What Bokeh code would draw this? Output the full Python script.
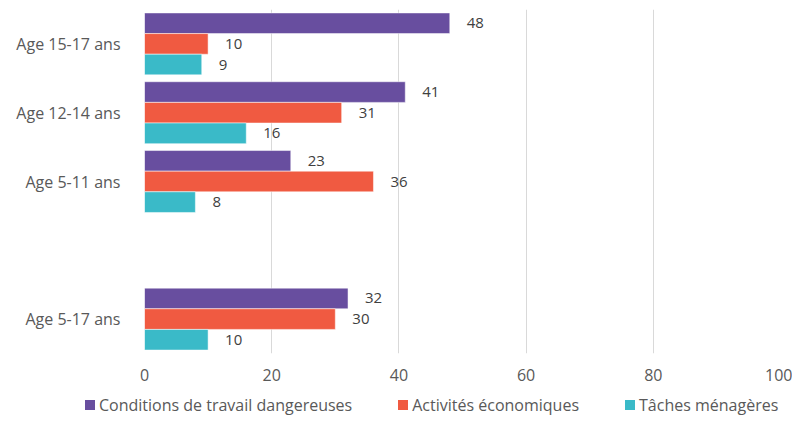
from bokeh.plotting import figure
from bokeh.layouts import column
from bokeh.models import ColumnDataSource, FixedTicker, Range1d, Div
from bokeh.core.properties import value
from bokeh.embed import file_html
from bokeh.resources import INLINE

categories = ["Age 15-17 ans", "Age 12-14 ans", "Age 5-11 ans", "", "Age 5-17 ans"]
series_names = ["Conditions de travail dangereuses", "Activités économiques", "Tâches ménagères"]
dangereuses = [48, 41, 23, None, 32]
economiques = [10, 31, 36, None, 30]
menageres = [9, 16, 8, None, 10]
x_ticks = [0, 20, 40, 60, 80, 100]

colors = ["#684E9F", "#F05A41", "#3ABAC8"]
FONT = "Open Sans"

n = len(categories)
cat_pos = [n - 1 - i for i in range(n)]  # first category on top

p = figure(width=792, height=383, output_backend="svg", toolbar_location=None,
           y_range=Range1d(-0.5, n - 0.5), x_range=Range1d(0, 100),
           min_border_left=144, min_border_right=12, min_border_top=9,
           min_border_bottom=27)
p.outline_line_color = None

offsets = [0.3, 0.0, -0.3]
series = [dangereuses, economiques, menageres]
for name, vals, off, col in zip(series_names, series, offsets, colors):
    ys = [cp + off for cp, v in zip(cat_pos, vals) if v is not None]
    vs = [v for v in vals if v is not None]
    src = ColumnDataSource(dict(y=ys, val=vs, lab=[str(v) for v in vs]))
    p.hbar(y="y", right="val", left=0, height=0.3,
           source=src, fill_color=col, line_color="white", line_width=0.5)
    p.text(x="val", y="y", text="lab", source=src,
           x_offset=17, text_align="left", text_baseline="middle",
           text_font=value(FONT), text_font_size="15px", text_color="#404040")

p.xgrid.ticker = FixedTicker(ticks=x_ticks)
p.xaxis.ticker = FixedTicker(ticks=x_ticks)
p.yaxis.ticker = FixedTicker(ticks=cat_pos)
p.yaxis.major_label_overrides = {cp: c for cp, c in zip(cat_pos, categories)}
p.xgrid.grid_line_color = "#D9D9D9"
p.ygrid.grid_line_color = None
p.xaxis.axis_line_color = None
p.yaxis.axis_line_color = None
for ax in (p.xaxis, p.yaxis):
    ax.major_tick_line_color = None
    ax.minor_tick_line_color = None
    ax.major_label_text_font = FONT
    ax.major_label_text_font_size = "16px"
    ax.major_label_text_color = "#595959"
p.xaxis.major_label_standoff = 9
p.yaxis.major_label_standoff = 18

# legend strip below the chart (HTML text, squares in the series colours)
parts = []
for name, col in zip(series_names, colors):
    parts.append(
        f"<span style='display:inline-block;width:10px;height:10px;background:{col};"
        f"margin-right:4px'></span><span style='margin-right:46px'>{name}</span>")
legend_html = ("<div style=\"display:flex;align-items:center;padding-left:80px;padding-top:6px;"
               "font-family:'Open Sans';font-size:16px;color:#595959;white-space:nowrap\">"
               + "".join(parts) + "</div>")
lg = Div(text=legend_html, width=792, height=32)

layout = column(p, lg, spacing=0)
open("out.html", "w").write(file_html(layout, INLINE))
